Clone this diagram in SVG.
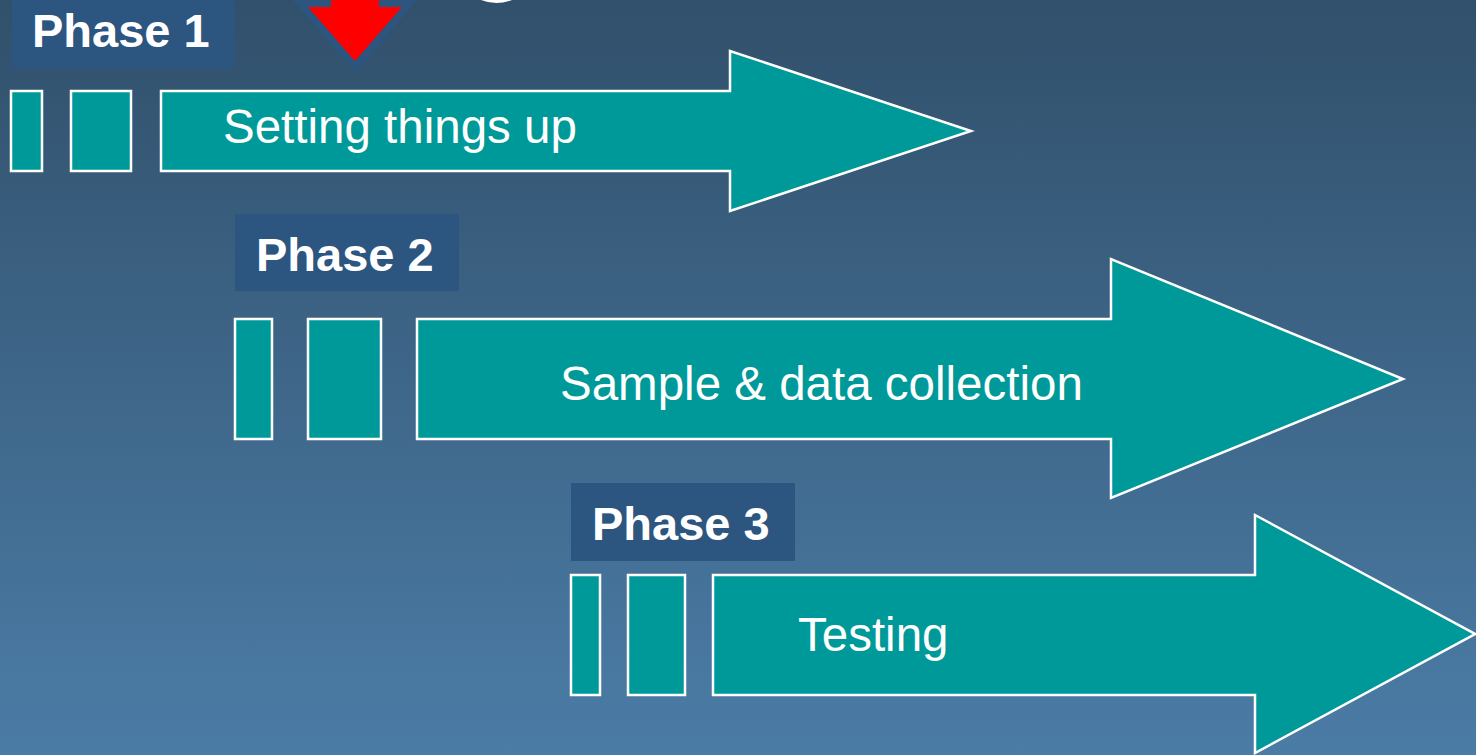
<svg xmlns="http://www.w3.org/2000/svg" width="1476" height="755" viewBox="0 0 1476 755">
  <defs>
    <linearGradient id="bg" x1="0" y1="0" x2="0" y2="1">
      <stop offset="0" stop-color="#31506b"/>
      <stop offset="1" stop-color="#4b7ca6"/>
    </linearGradient>
    <style>
      .teal { fill: #009999; stroke: #ffffff; stroke-width: 2.5; }
      .label { fill: #2c5580; }
      .ptxt { font-family: "Liberation Sans", Arial, sans-serif; font-weight: bold; font-size: 47px; fill: #ffffff; }
      .atxt { font-family: "Liberation Sans", Arial, sans-serif; font-size: 47.5px; fill: #ffffff; }
    </style>
  </defs>
  <rect x="0" y="0" width="1476" height="755" fill="url(#bg)"/>

  <!-- cropped title fragment -->
  <path d="M481,0 Q496,6 512,0 Z" fill="#ffffff"/>

  <!-- red down arrow marker -->
  <g id="marker">
    <polygon points="293,0 417,0 355,72" fill="#2c5580"/>
    <polygon points="331,-10 379,-10 379,7 402,7 355,61 308,7 331,7" fill="#ff0000"/>
  </g>

  <g id="phase1-label">
    <rect class="label" x="12" y="-10" width="223" height="78"/>
    <text class="ptxt" x="32" y="47">Phase 1</text>
  </g>
  <g id="phase1-arrow">
    <rect class="teal" x="11" y="91" width="31" height="80"/>
    <rect class="teal" x="71" y="91" width="60" height="80"/>
    <polygon class="teal" points="161,91 730,91 730,51 971,131 730,211 730,171 161,171"/>
    <text class="atxt" x="223" y="143">Setting things up</text>
  </g>

  <g id="phase2-label">
    <rect class="label" x="235" y="214" width="224" height="77"/>
    <text class="ptxt" x="256" y="271">Phase 2</text>
  </g>
  <g id="phase2-arrow">
    <rect class="teal" x="235" y="319" width="37" height="120"/>
    <rect class="teal" x="308" y="319" width="73" height="120"/>
    <polygon class="teal" points="417,319 1111,319 1111,259 1403,379 1111,498 1111,439 417,439"/>
    <text class="atxt" x="560" y="400">Sample &amp; data collection</text>
  </g>

  <g id="phase3-label">
    <rect class="label" x="571" y="483" width="224" height="78"/>
    <text class="ptxt" x="592" y="540">Phase 3</text>
  </g>
  <g id="phase3-arrow">
    <rect class="teal" x="571" y="575" width="29" height="120"/>
    <rect class="teal" x="628" y="575" width="57" height="120"/>
    <polygon class="teal" points="713,575 1255,575 1255,515 1475,634 1255,753 1255,695 713,695"/>
    <text class="atxt" x="798" y="651">Testing</text>
  </g>

  <g id="connectors"/>
</svg>
